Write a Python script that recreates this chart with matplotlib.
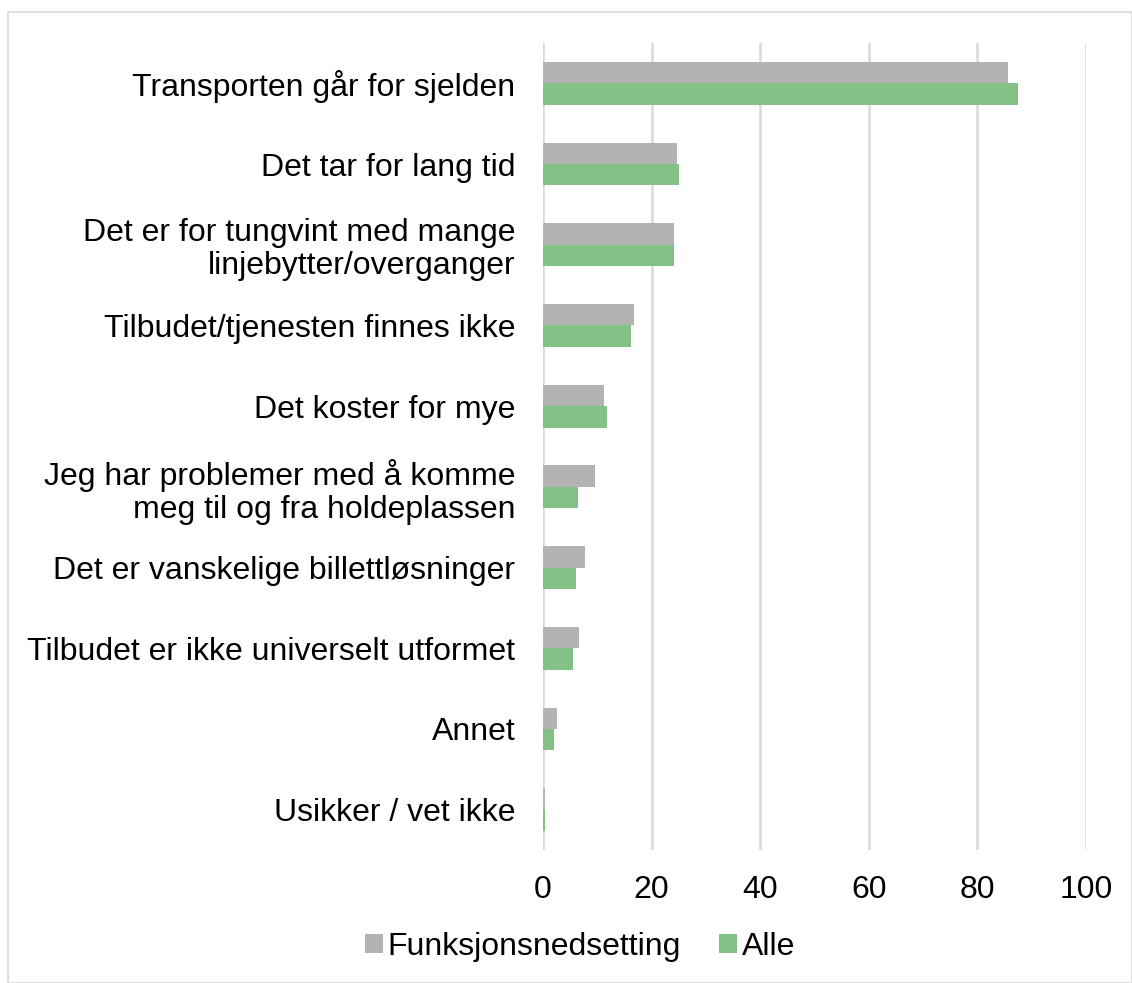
import numpy as np
import matplotlib.pyplot as plt

plt.rcParams['font.family'] = ['Liberation Sans', 'DejaVu Sans']

categories = [
    'Transporten går for sjelden',
    'Det tar for lang tid',
    'Det er for tungvint med mange\nlinjebytter/overganger',
    'Tilbudet/tjenesten finnes ikke',
    'Det koster for mye',
    'Jeg har problemer med å komme\nmeg til og fra holdeplassen',
    'Det er vanskelige billettløsninger',
    'Tilbudet er ikke universelt utformet',
    'Annet',
    'Usikker / vet ikke',
]
funksjon = [85.6, 24.7, 24.1, 16.8, 11.2, 9.6, 7.7, 6.6, 2.6, 0.3]
alle = [87.5, 25.0, 24.1, 16.2, 11.8, 6.4, 6.0, 5.5, 2.0, 0.3]
xticks = [0, 20, 40, 60, 80, 100]

fig = plt.figure(figsize=(11.32, 9.83), dpi=100)
ax = fig.add_axes([543 / 1132, 1 - 850 / 983, (1086 - 543) / 1132, (850 - 43) / 983])

y = np.arange(len(categories))
h = 0.265
ax.barh(y - h / 2, funksjon, height=h, color='#b3b4b2', label='Funksjonsnedsetting')
ax.barh(y + h / 2, alle, height=h, color='#84c186', label='Alle')

ax.set_ylim(len(categories) - 0.5, -0.5)
ax.set_xlim(0, 100)
ax.set_yticks(y)
ax.set_yticklabels(categories, fontsize=23, linespacing=1.12)
ax.set_xticks(xticks)
ax.set_xticklabels([str(t) for t in xticks], fontsize=23)
ax.tick_params(length=0)
ax.tick_params(axis='y', pad=20)
ax.tick_params(axis='x', pad=18)
ax.xaxis.grid(True, color='#d9d9d9', linewidth=1.8)
ax.set_axisbelow(True)
for s in ax.spines.values():
    s.set_visible(False)

fig.legend(loc='center', bbox_to_anchor=(580 / 1132, 1 - 947 / 983), ncol=2,
           frameon=False, fontsize=23, handlelength=0.55, handleheight=0.55,
           handletextpad=0.15, columnspacing=1.2)

border = plt.Rectangle((8 / 1132, 0), 1 - 8 / 1132, 1 - 12 / 983, transform=fig.transFigure,
                       fill=False, edgecolor='#d9d9d9', linewidth=1.2)
fig.patches.append(border)

fig.savefig('out.png', dpi=100)
